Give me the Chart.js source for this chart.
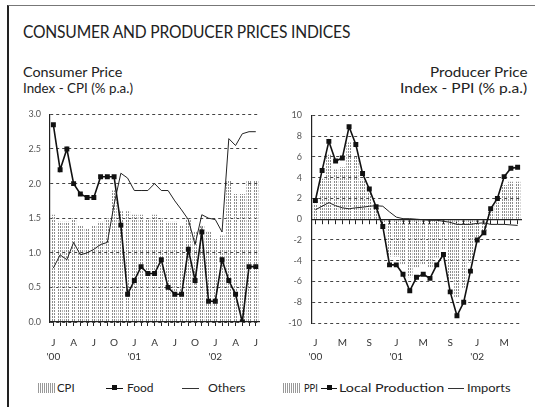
<!DOCTYPE html>
<html>
<head>
<meta charset="utf-8">
<script src="https://cdn.jsdelivr.net/npm/chart.js@4"></script>
<style>
  body { margin: 0; background: #fff; }
  .page { position: relative; width: 535px; height: 407px; overflow: hidden; font-family: Lato, "Open Sans", sans-serif; color: #222; }
  .frame { position: absolute; left: 7px; top: 5px; width: 526px; height: 420px; border-left: 2px solid #222; border-top: 1px solid #777; border-right: 1px solid #bbb; }
  .txt { position: absolute; white-space: nowrap; transform-origin: left top; font-weight: 400; }
  .title { left: 23px; top: 21px; font-size: 17px; letter-spacing: -0.2px; }
  .sub { font-size: 13.5px; line-height: 16px; }
  .legend { font-size: 12px; top: 380px; }
  .swatch { position: absolute; top: 383px; width: 18px; height: 10px;
    background: repeating-linear-gradient(90deg, #999 0 1px, transparent 1px 2px); }
  .lline { position: absolute; top: 388px; height: 0; border-top: 1.5px solid #111; }
  .thin { border-top: 1px solid #333; }
  .mark { position: absolute; top: 385px; width: 5px; height: 5px; background: #111; }
  canvas { position: absolute; }
</style>
</head>
<body>
<div class="page">
  <div class="frame"></div>
  <div class="txt title" id="title">CONSUMER AND PRODUCER PRICES INDICES</div>
  <div class="txt sub" id="subL1" style="left:23px;top:64px">Consumer Price</div>
  <div class="txt sub" id="subL2" style="left:23px;top:80px">Index - CPI (% p.a.)</div>
  <div class="txt sub" id="subR1" style="right:8px;top:64px">Producer Price</div>
  <div class="txt sub" id="subR2" style="right:8px;top:80px">Index - PPI (% p.a.)</div>

  <canvas id="cpiChart" width="268" height="270" style="left:0;top:100px"></canvas>
  <canvas id="ppiChart" width="265" height="270" style="left:270px;top:100px"></canvas>

  <!-- left legend -->
  <div class="swatch" style="left:38px"></div>
  <div class="txt legend" id="lgCpi" style="left:57px">CPI</div>
  <div class="lline" style="left:106px;width:17px"></div>
  <div class="mark" style="left:112px"></div>
  <div class="txt legend" id="lgFood" style="left:127px">Food</div>
  <div class="lline thin" style="left:182px;width:17px"></div>
  <div class="txt legend" id="lgOthers" style="left:208px">Others</div>

  <!-- right legend -->
  <div class="swatch" style="left:283px"></div>
  <div class="txt legend" id="lgPpi" style="left:304px">PPI</div>
  <div class="lline" style="left:321px;width:16px"></div>
  <div class="mark" style="left:327px"></div>
  <div class="txt legend" id="lgLocal" style="left:339px">Local Production</div>
  <div class="lline thin" style="left:448px;width:16px"></div>
  <div class="txt legend" id="lgImports" style="left:467px">Imports</div>
</div>

<script>
// --- Data: monthly, Jan 2000 - Jul 2002 ---
const months = [
    'Jan 00', 'Feb 00', 'Mar 00', 'Apr 00', 'May 00', 'Jun 00', 'Jul 00', 'Aug 00', 'Sep 00', 'Oct 00', 'Nov 00', 'Dec 00',
    'Jan 01', 'Feb 01', 'Mar 01', 'Apr 01', 'May 01', 'Jun 01', 'Jul 01', 'Aug 01', 'Sep 01', 'Oct 01', 'Nov 01', 'Dec 01',
    'Jan 02', 'Feb 02', 'Mar 02', 'Apr 02', 'May 02', 'Jun 02', 'Jul 02'
];

const cpiTickLabels = [
    ['J', "'00"], '', '', 'A', '', '', 'J', '', '', 'O', '', '',
    ['J', "'01"], '', '', 'A', '', '', 'J', '', '', 'O', '', '',
    ['J', "'02"], '', '', 'A', '', '', 'J'
];
const ppiTickLabels = [
    ['J', "'00"], '', '', '', 'M', '', '', '', 'S', '', '', '',
    ['J', "'01"], '', '', '', 'M', '', '', '', 'S', '', '', '',
    ['J', "'02"], '', '', '', 'M', '', ''
];

const cpi = [1.55, 1.45, 1.45, 1.5, 1.4, 1.35, 1.4, 1.45, 1.5, 1.9, 1.6, 1.6, 1.55, 1.55, 1.5, 1.55,
    1.5, 1.45, 1.45, 1.4, 1.5, 1.3, 1.4, 1.3, 1.2, 1.25, 2.05, 1.85, 1.85, 2.05, 2.05];
const food = [2.85, 2.2, 2.5, 2.0, 1.85, 1.8, 1.8, 2.1, 2.1, 2.1, 1.4, 0.4, 0.6, 0.8, 0.7, 0.7,
    0.9, 0.5, 0.4, 0.4, 1.05, 0.6, 1.3, 0.3, 0.3, 0.9, 0.6, 0.4, 0.0, 0.8, 0.8];
const others = [0.78, 0.97, 0.9, 1.15, 0.97, 1.0, 1.05, 1.12, 1.15, 1.7, 2.15, 2.08, 1.9, 1.9, 1.9, 2.0,
    1.9, 1.9, 1.75, 1.62, 1.48, 1.12, 1.55, 1.5, 1.48, 1.3, 2.65, 2.55, 2.72, 2.75, 2.75];

const ppi = [1.5, 3.9, 6.2, 4.8, 5.0, 7.4, 6.0, 3.8, 2.6, 1.2, -0.4, -3.6, -3.6, -4.4, -5.6, -4.6,
    -4.4, -4.7, -3.7, -2.9, -5.8, -7.6, -6.6, -4.2, -1.8, -1.2, 0.7, 1.6, 3.3, 3.6, 3.6];
const localProduction = [1.8, 4.7, 7.5, 5.6, 5.9, 8.9, 7.2, 4.4, 2.9, 1.2, -0.7, -4.4, -4.4, -5.3, -6.9, -5.6,
    -5.3, -5.7, -4.4, -3.4, -7.0, -9.3, -8.0, -5.0, -2.0, -1.3, 1.0, 2.0, 4.1, 4.9, 5.0];
const imports = [0.9, 1.25, 1.6, 1.3, 1.1, 1.0, 1.1, 1.15, 1.25, 1.3, 1.25, 0.7, 0.2, 0.05, 0.05, 0.0,
    -0.05, -0.1, -0.1, -0.2, -0.3, -0.5, -0.5, -0.5, -0.4, -0.35, -0.5, -0.5, -0.5, -0.55, -0.6];

// --- Helpers ---
function fitWidth(id, w) {
    const el = document.getElementById(id);
    const s = w / el.offsetWidth;
    el.style.transform = 'scaleX(' + s + ')';
    if (el.style.right) el.style.transformOrigin = 'right top';
}

function makeHatch(ctx) {
    const c = document.createElement('canvas');
    c.width = 2;
    c.height = 3;
    const g = c.getContext('2d');
    g.fillStyle = '#8c8c8c';
    g.fillRect(0, 0, 1, 2);
    return ctx.createPattern(c, 'repeat');
}

fitWidth('title', 327);
fitWidth('subL1', 99);
fitWidth('subL2', 110);
fitWidth('subR1', 97);
fitWidth('subR2', 127);
fitWidth('lgCpi', 18);
fitWidth('lgFood', 27);
fitWidth('lgOthers', 37);
fitWidth('lgPpi', 14);
fitWidth('lgLocal', 105);
fitWidth('lgImports', 44);

Chart.defaults.font.family = 'Lato, "Open Sans", sans-serif';
Chart.defaults.animation = false;

const tickFont = { size: 10, lineHeight: 1.4 };
const gridDash = [3, 3];

// --- CPI chart ---
const cpiCanvas = document.getElementById('cpiChart');
new Chart(cpiCanvas, {
    type: 'bar',
    data: {
        labels: months,
        datasets: [
            {
                type: 'line', label: 'Food', data: food,
                borderColor: '#111', borderWidth: 1.6,
                pointStyle: 'rect', pointRadius: 3.5, pointBackgroundColor: '#111', pointBorderWidth: 0,
                order: 1
            },
            {
                type: 'line', label: 'Others', data: others,
                borderColor: '#222', borderWidth: 1, pointRadius: 0,
                order: 2
            },
            {
                type: 'bar', label: 'CPI', data: cpi,
                backgroundColor: makeHatch(cpiCanvas.getContext('2d')),
                borderWidth: 0, barPercentage: 0.75, categoryPercentage: 1,
                order: 3
            }
        ]
    },
    options: {
        responsive: false,
        layout: { padding: { top: 9, right: 6 } },
        plugins: { legend: { display: false }, tooltip: { enabled: false } },
        scales: {
            x: {
                grid: { drawOnChartArea: false, drawTicks: true, tickLength: 4, offset: false, color: '#222' },
                border: { color: '#222', width: 1.2 },
                ticks: { autoSkip: false, maxRotation: 0, padding: 10, color: '#333', font: tickFont,
                    callback: (v, i) => cpiTickLabels[i] },
                afterFit: s => { s.height = 48; }
            },
            y: {
                min: 0, max: 3,
                ticks: { stepSize: 0.5, callback: v => v.toFixed(1), color: '#555', font: { size: 9 }, padding: 9 },
                grid: { color: '#444', drawTicks: false },
                border: { dash: gridDash, color: '#222', width: 1.2 },
                afterFit: s => { s.width = 50; }
            }
        }
    }
});

// --- PPI chart ---
const ppiCanvas = document.getElementById('ppiChart');
new Chart(ppiCanvas, {
    type: 'bar',
    data: {
        labels: months,
        datasets: [
            {
                type: 'line', label: 'Local Production', data: localProduction,
                borderColor: '#111', borderWidth: 1.6,
                pointStyle: 'rect', pointRadius: 3.5, pointBackgroundColor: '#111', pointBorderWidth: 0,
                order: 1
            },
            {
                type: 'line', label: 'Imports', data: imports,
                borderColor: '#222', borderWidth: 1, pointRadius: 0,
                order: 2
            },
            {
                type: 'bar', label: 'PPI', data: ppi,
                backgroundColor: makeHatch(ppiCanvas.getContext('2d')),
                borderWidth: 0, barPercentage: 0.8, categoryPercentage: 1,
                order: 3
            }
        ]
    },
    options: {
        responsive: false,
        layout: { padding: { top: 9, right: 14 } },
        plugins: { legend: { display: false }, tooltip: { enabled: false } },
        scales: {
            x: {
                grid: { drawOnChartArea: false, drawTicks: true, tickLength: 4, tickColor: 'rgba(0,0,0,0)' },
                border: { display: false },
                ticks: { autoSkip: false, maxRotation: 0, padding: 9, color: '#333', font: tickFont,
                    callback: (v, i) => ppiTickLabels[i] },
                afterFit: s => { s.height = 47; }
            },
            // zero line with monthly tick marks
            x2: {
                type: 'category', labels: months, offset: true, position: { y: 0 },
                grid: { drawOnChartArea: false, drawTicks: true, tickLength: 4, offset: false, color: '#222' },
                border: { color: '#222', width: 1.2 },
                ticks: { display: false }
            },
            y: {
                min: -10, max: 10,
                ticks: { stepSize: 2, color: '#555', font: { size: 9 }, padding: 10 },
                grid: { color: '#444', drawTicks: false },
                border: { dash: gridDash, color: '#222', width: 1.2 },
                afterFit: s => { s.width = 42; }
            }
        }
    }
});
</script>
</body>
</html>
